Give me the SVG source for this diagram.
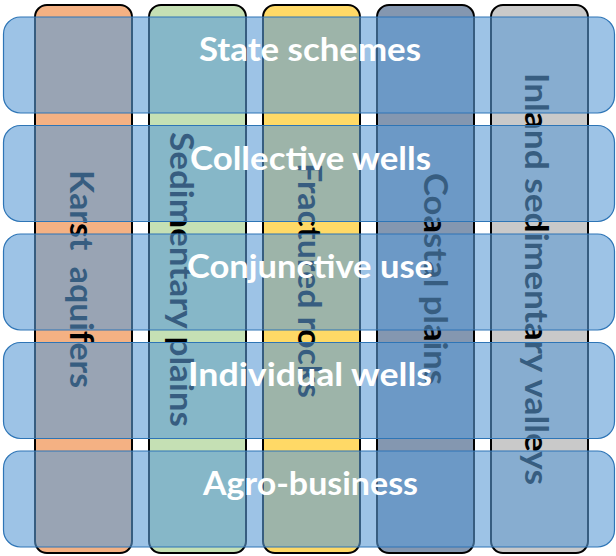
<svg xmlns="http://www.w3.org/2000/svg" width="616" height="556" viewBox="0 0 616 556">
<style>
.col{stroke:#000;stroke-width:2}
.row{fill:#5B9BD5;fill-opacity:0.6;stroke:#2E75B6;stroke-width:1.2}
.ct{font-family:Lato,"Open Sans","Liberation Sans",sans-serif;font-weight:bold;font-size:33px;fill:#000;text-anchor:middle}
.rt{font-family:Lato,"Open Sans","Liberation Sans",sans-serif;font-weight:bold;font-size:33px;fill:#fff;text-anchor:middle}
</style>
<rect width="616" height="556" fill="#fff"/>
<g id="col-karst">
<rect class="col" x="35" y="5" width="97" height="548" rx="12" fill="#F4B183"/>
<text class="ct" xml:space="preserve" transform="translate(70,279) rotate(90)" textLength="218" lengthAdjust="spacingAndGlyphs">Karst  aquifers</text>
</g>
<g id="col-sedimentary">
<rect class="col" x="149" y="5" width="97" height="548" rx="12" fill="#C5E0B4"/>
<text class="ct" transform="translate(170,279.5) rotate(90)" textLength="295" lengthAdjust="spacingAndGlyphs">Sedimentary plains</text>
</g>
<g id="col-fractured">
<rect class="col" x="263" y="5" width="97" height="548" rx="12" fill="#FFD966"/>
<text class="ct" transform="translate(298,280.5) rotate(90)" textLength="235" lengthAdjust="spacingAndGlyphs">Fractured rocks</text>
</g>
<g id="col-coastal">
<rect class="col" x="377" y="5" width="97" height="548" rx="12" fill="#8497B0"/>
<text class="ct" transform="translate(424,279) rotate(90)" textLength="212" lengthAdjust="spacingAndGlyphs">Coastal plains</text>
</g>
<g id="col-inland">
<rect class="col" x="491" y="5" width="97" height="548" rx="12" fill="#C9C9C9"/>
<text class="ct" transform="translate(525,279) rotate(90)" textLength="412" lengthAdjust="spacingAndGlyphs">Inland sedimentary valleys</text>
</g>
<g id="row-state">
<rect class="row" x="3.5" y="17" width="611" height="96" rx="17"/>
<text class="rt" x="310" y="61" textLength="222" lengthAdjust="spacingAndGlyphs">State schemes</text>
</g>
<g id="row-collective">
<rect class="row" x="3.5" y="125.5" width="611" height="96" rx="17"/>
<text class="rt" x="310.5" y="169.5" textLength="241" lengthAdjust="spacingAndGlyphs">Collective wells</text>
</g>
<g id="row-conjunctive">
<rect class="row" x="3.5" y="234" width="611" height="96" rx="17"/>
<text class="rt" x="310" y="277.5" textLength="246" lengthAdjust="spacingAndGlyphs">Conjunctive use</text>
</g>
<g id="row-individual">
<rect class="row" x="3.5" y="342.5" width="611" height="96" rx="17"/>
<text class="rt" x="310" y="385.5" textLength="244" lengthAdjust="spacingAndGlyphs">Individual wells</text>
</g>
<g id="row-agro">
<rect class="row" x="3.5" y="451" width="611" height="96" rx="17"/>
<text class="rt" x="310.5" y="495" textLength="215" lengthAdjust="spacingAndGlyphs">Agro-business</text>
</g>
<g id="connectors"></g>
</svg>
